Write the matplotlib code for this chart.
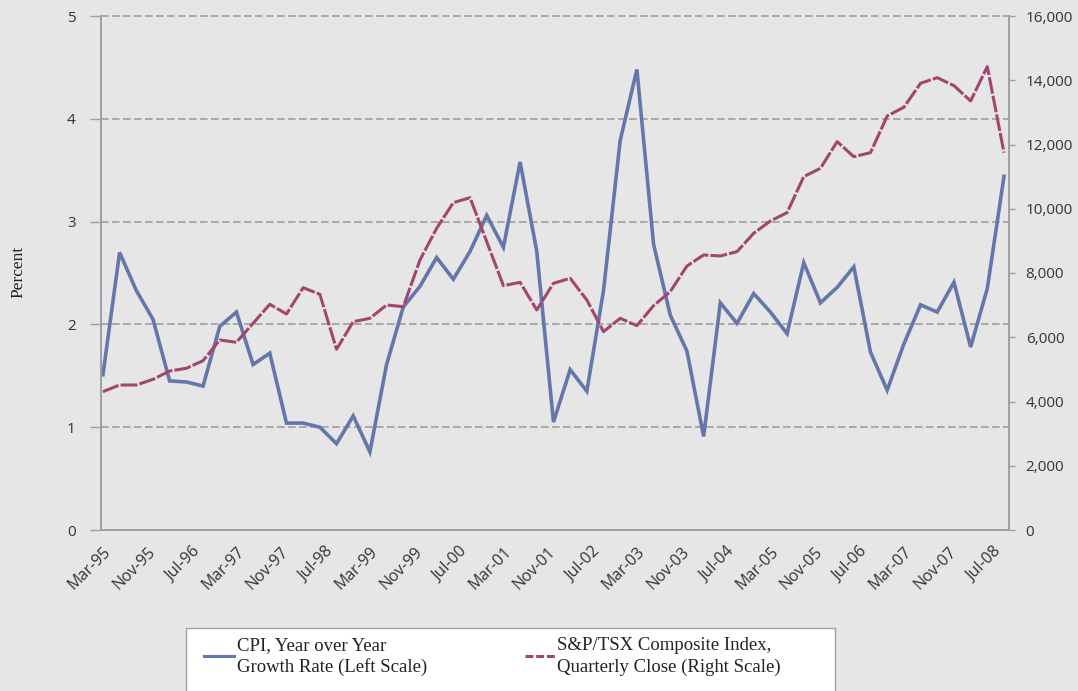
import matplotlib
matplotlib.use("Agg")
import matplotlib.pyplot as plt
from matplotlib.patches import Rectangle
from matplotlib.lines import Line2D

# Quarterly observations, Mar-95 .. Sep-08 (months since Mar-95 = 3*i)
cpi = [1.51, 2.70, 2.33, 2.05, 1.45, 1.44, 1.40, 1.98, 2.12, 1.61,
       1.72, 1.04, 1.04, 1.00, 0.84, 1.11, 0.76, 1.61, 2.17, 2.37,
       2.65, 2.44, 2.71, 3.06, 2.75, 3.58, 2.71, 1.05, 1.56, 1.35,
       2.33, 3.79, 4.48, 2.78, 2.09, 1.74, 0.91, 2.21, 2.01, 2.30,
       2.12, 1.91, 2.60, 2.21, 2.36, 2.56, 1.73, 1.36, 1.81, 2.19,
       2.12, 2.41, 1.78, 2.35, 3.44]
tsx = [4306, 4514, 4514, 4690, 4950, 5033, 5270, 5915, 5843, 6434,
       7026, 6724, 7543, 7337, 5625, 6485, 6590, 7004, 6952, 8405,
       9392, 10190, 10345, 8976, 7606, 7710, 6849, 7679, 7835, 7160,
       6174, 6590, 6361, 6984, 7420, 8218, 8561, 8530, 8665, 9236,
       9619, 9878, 11000, 11260, 12090, 11620, 11746, 12888, 13160, 13906,
       14081, 13832, 13355, 14423, 11746]
months = [3 * i for i in range(len(cpi))]

tick_months = list(range(0, 161, 8))
tick_labels = ["Mar-95", "Nov-95", "Jul-96", "Mar-97", "Nov-97", "Jul-98", "Mar-99",
               "Nov-99", "Jul-00", "Mar-01", "Nov-01", "Jul-02", "Mar-03", "Nov-03",
               "Jul-04", "Mar-05", "Nov-05", "Jul-06", "Mar-07", "Nov-07", "Jul-08"]
left_ticks = [0, 1, 2, 3, 4, 5]
right_ticks = [0, 2000, 4000, 6000, 8000, 10000, 12000, 14000, 16000]

label_cpi = "CPI, Year over Year\nGrowth Rate (Left Scale)"
label_tsx = "S&P/TSX Composite Index,\nQuarterly Close (Right Scale)"

BG = "#e6e6e6"
BLUE = "#6577aa"
RED = "#a2466f"
SPINE = "#9aa0a8"
W, H = 1078, 691

fig = plt.figure(figsize=(W / 100, H / 100), dpi=100, facecolor=BG)
ax = fig.add_axes([100.7 / W, 1 - 530 / H, (1009 - 100.7) / W, (530 - 16) / H])
ax.set_facecolor(BG)
ax2 = ax.twinx()

ax.set_xlim(-0.4, 162.9)
ax.set_ylim(0, 5)
ax2.set_ylim(0, 16000)

for y in left_ticks[1:]:
    ax.axhline(y, color="#999999", lw=1.1, ls=(0, (5, 2.2)), zorder=1, clip_on=False)

ax.plot(months, cpi, color=BLUE, lw=2.6, zorder=3, solid_joinstyle="miter")
ax2.plot(months, tsx, color=RED, lw=2.2, ls=(0, (5.5, 0.7)), zorder=3)

for a in (ax, ax2):
    a.spines["top"].set_visible(False)
    for s in ("left", "right", "bottom"):
        a.spines[s].set_color(SPINE)
        a.spines[s].set_linewidth(1.2)

ax.set_yticks(left_ticks)
ax.set_yticklabels([str(v) for v in left_ticks])
ax.tick_params(axis="y", direction="out", length=8, width=1, color=SPINE,
               labelsize=11, labelcolor="#333333", pad=10)
ax2.set_yticks(right_ticks)
ax2.set_yticklabels([f"{v:,}" for v in right_ticks])
ax2.tick_params(axis="y", direction="out", length=4, width=1, color=SPINE,
                labelsize=11, labelcolor="#333333", pad=8)

ax.set_xticks(tick_months)
ax.set_xticklabels(tick_labels, rotation=45, ha="right", va="top",
                   rotation_mode="anchor")
ax.tick_params(axis="x", length=0, labelsize=11.5, labelcolor="#333333", pad=10)

for lab in ax.get_xticklabels() + ax.get_yticklabels() + ax2.get_yticklabels():
    lab.set_fontfamily("Open Sans")

fig.text(18 / W, 1 - 272 / H, "Percent", rotation=90, ha="center", va="center",
         fontsize=12.5, family="Liberation Serif", color="#222222")

# legend box (extends beyond bottom edge)
fig.patches.append(Rectangle((186 / W, -0.05), (835 - 186) / W, 0.05 + 1 - 628 / H,
                             transform=fig.transFigure, facecolor="white",
                             edgecolor="#a0a0a0", lw=1.0, zorder=0))
h1 = Line2D([], [], color=BLUE, lw=2.2)
h2 = Line2D([], [], color=RED, lw=2.2, ls=(0, (2.6, 0.9)))
leg = fig.legend([h1, h2], [label_cpi, label_tsx], ncol=2, frameon=False,
                 loc="upper left", bbox_to_anchor=(204 / W, 1 - 637 / H),
                 prop={"family": "Liberation Serif", "size": 13.5},
                 handlelength=1.6, handletextpad=0.15, columnspacing=5.2,
                 borderaxespad=0, borderpad=0, labelspacing=0)
for t in leg.get_texts():
    t.set_linespacing(1.3)
    t.set_color("#222222")

fig.savefig("out.png", dpi=100, facecolor=BG)
